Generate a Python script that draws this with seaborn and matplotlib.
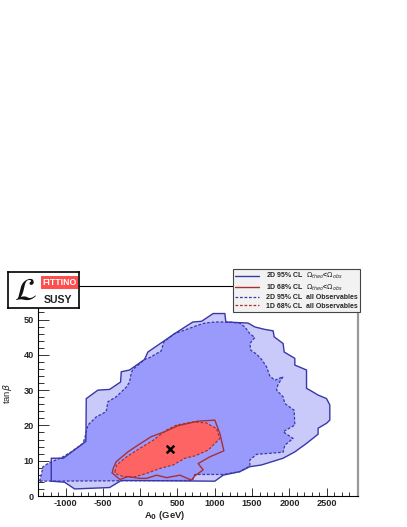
import numpy as np
import matplotlib
matplotlib.use("Agg")
import matplotlib.pyplot as plt
from matplotlib.lines import Line2D
from matplotlib.patches import Rectangle
import seaborn as sns

# 2D 95% CL, Omega_theo < Omega_obs (solid blue, light fill)
outer_a0 = [-1192, -1192, -1032, -764, -728, -723, -567, -410, -263, -254, -142, 59, 103, 304,
            461, 706, 823, 978, 1135, 1148, 1447, 1537, 1671, 1782, 1796, 1916, 1930, 2073,
            2073, 2230, 2230, 2274, 2385, 2498, 2542, 2542, 2498, 2385, 2385, 2230, 2073, 1916,
            1627, 1470, 1336, 1112, 1001, -254, -410, -879, -1013]
outer_tb = [4.2, 10.7, 10.7, 14.9, 15.5, 27.6, 30.0, 30.2, 32.3, 35.2, 35.7, 38.7, 40.8, 43.7,
            46.0, 49.3, 49.5, 51.7, 51.7, 49.3, 49.0, 47.9, 47.2, 46.8, 45.1, 43.2, 40.8, 39.0,
            37.1, 35.7, 30.5, 30.0, 28.6, 27.6, 25.8, 21.5, 20.6, 19.2, 17.5, 14.9, 12.5, 10.7,
            8.8, 8.3, 6.9, 5.9, 4.2, 4.4, 2.4, 2.0, 3.9]

# 2D 95% CL, all observables (dashed blue, medium fill)
inner_a0 = [-1348, -1326, -1304, -1237, -1036, -925, -768, -745, -723, -701, -590, -456, -433,
            -322, -188, -142, -120, -100, 59, 126, 281, 318, 461, 595, 773, 867, 1001, 1179,
            1336, 1403, 1470, 1537, 1470, 1483, 1560, 1627, 1694, 1738, 1805, 1916, 1849, 1828,
            1916, 1939, 2064, 2073, 1916, 2050, 1939, 1916, 1560, 1470, 1470, 1336, 1112, 733,
            700]
inner_tb = [4.2, 6.1, 8.3, 9.2, 11.1, 12.5, 14.9, 16.3, 18.2, 20.1, 22.4, 23.9, 26.7,
            28.1, 30.8, 32.3, 34.9, 35.8, 38.7, 39.2, 41.1, 43.7, 46.0, 47.0, 48.4, 49.0, 49.3, 49.3,
            49.0, 47.9, 46.0, 44.9, 43.2, 41.3, 40.2, 38.7, 36.6, 34.0, 32.8, 33.8, 31.7, 30.0,
            28.1, 26.2, 24.3, 20.1, 18.2, 16.3, 14.4, 12.4, 11.8, 10.2, 8.5, 6.9, 6.1, 6.1,
            4.4]

# 1D 68% CL, Omega_theo < Omega_obs (solid red, no fill)
red_solid_a0 = [-375, -362, -322, -165, -31, 147, 327, 505, 773, 1001, 1068, 1122, 934, 777,
                844, 733, 689, 532, 354, 220, 86, -8, -165, -272]
red_solid_tb = [6.5, 7.8, 9.7, 12.5, 14.4, 16.8, 18.2, 19.9, 21.2, 21.5, 17.7, 12.8, 11.1, 9.2,
                7.4, 5.7, 4.5, 5.9, 5.2, 5.9, 5.0, 5.0, 5.5, 4.7]

# 1D 68% CL, all observables (dashed red, red fill)
red_dash_a0 = [-339, -316, -182, -4, 174, 354, 488, 710, 890, 978, 1023, 1068, 911, 740, 599,
               442, 264, 86, -94, -228, -339]
red_dash_tb = [6.9, 8.8, 11.1, 13.5, 15.8, 18.7, 20.1, 21.0, 20.7, 19.6, 19.2, 16.3, 13.0, 11.4,
               10.7, 8.8, 7.8, 6.4, 5.3, 5.5, 6.4]

best_a0 = [400]
best_tb = [13.2]

legend_labels = [r"2D 95% CL  $\Omega_{theo}$<$\Omega_{obs}$",
                 r"1D 68% CL  $\Omega_{theo}$<$\Omega_{obs}$",
                 "2D 95% CL  all Observables",
                 "1D 68% CL  all Observables"]

sns.set_style("ticks")
plt.rcParams["font.family"] = ["Liberation Sans", "DejaVu Sans"]
plt.rcParams["axes.unicode_minus"] = False

c_light = "#cacafa"
c_mid = "#9a9afc"
c_red = "#ff6464"
c_bline = "#3838a8"
c_rline = "#aa3030"
dash = (0, (2.2, 1.4))


def closed(x, y):
    return np.append(x, x[0]), np.append(y, y[0])


fig = plt.figure(figsize=(4.07, 5.27), dpi=100)
ax = fig.add_axes([38 / 407, 1 - 496 / 527, 320 / 407, 210 / 527])

ax.fill(outer_a0, outer_tb, color=c_light, lw=0, zorder=1)
ax.fill(inner_a0, inner_tb, color=c_mid, lw=0, zorder=2)
ax.fill(red_dash_a0, red_dash_tb, color=c_red, lw=0, zorder=3)

x, y = closed(outer_a0, outer_tb)
sns.lineplot(x=x, y=y, sort=False, estimator=None, color=c_bline, lw=1.0, ax=ax, zorder=4)
x, y = closed(inner_a0, inner_tb)
sns.lineplot(x=x, y=y, sort=False, estimator=None, color=c_bline, lw=0.9,
             linestyle=dash, ax=ax, zorder=4)
x, y = closed(red_dash_a0, red_dash_tb)
sns.lineplot(x=x, y=y, sort=False, estimator=None, color=c_rline, lw=0.9,
             linestyle=dash, ax=ax, zorder=5)
x, y = closed(red_solid_a0, red_solid_tb)
sns.lineplot(x=x, y=y, sort=False, estimator=None, color=c_rline, lw=1.0, ax=ax, zorder=5)
sns.scatterplot(x=best_a0, y=best_tb, marker="x", s=30, color="black", linewidth=1.8,
                ax=ax, zorder=6)

ax.set_xlim(-1370, 2920)
ax.set_ylim(0, 59.5)
ax.set_xticks([-1000, -500, 0, 500, 1000, 1500, 2000, 2500])
ax.set_xticks(np.arange(-1300, 2901, 100), minor=True)
ax.set_yticks([0, 10, 20, 30, 40, 50])
ax.set_yticks(np.arange(0, 59, 2), minor=True)
ax.tick_params(axis="both", which="both", direction="in", labelsize=6.6, width=0.7, color="#333333")
ax.tick_params(axis="x", which="major", length=6, pad=2.5)
ax.tick_params(axis="x", which="minor", length=3)
ax.tick_params(axis="y", which="major", length=8, pad=3)
ax.tick_params(axis="y", which="minor", length=4.5)
for lab in ax.get_xticklabels() + ax.get_yticklabels():
    lab.set_fontweight("bold")

for s in ["left", "bottom", "top"]:
    ax.spines[s].set_color("black")
    ax.spines[s].set_linewidth(0.8)
ax.spines["right"].set_visible(True)
ax.spines["top"].set_visible(True)
ax.spines["right"].set_color("#999999")
ax.spines["right"].set_linewidth(1.6)

ax.set_xlabel(r"A$_\mathbf{0}$ (GeV)", fontsize=6.8, fontweight="bold", va="center")
ax.xaxis.set_label_coords((165 - 38) / 320, -0.095)
ax.set_ylabel(r"tan$\beta$", fontsize=6.8, va="center")
ax.yaxis.set_label_coords(-0.094, 0.49)

handles = [Line2D([], [], color=c_bline, lw=1.0),
           Line2D([], [], color=c_rline, lw=1.0),
           Line2D([], [], color=c_bline, lw=0.9, linestyle=dash),
           Line2D([], [], color=c_rline, lw=0.9, linestyle=dash)]
leg = fig.legend(handles, legend_labels, loc="upper left",
                 bbox_to_anchor=(233 / 407, 1 - 269 / 527), borderaxespad=0,
                 prop={"size": 5.0, "weight": "bold"}, handlelength=3.5,
                 handletextpad=0.95, labelspacing=0.2, borderpad=0.3,
                 fancybox=False, framealpha=1, facecolor="#f2f2f2",
                 edgecolor="#444444")
leg.get_frame().set_linewidth(0.8)

# FITTINO logo
lg = fig.add_axes([8 / 407, 1 - 308 / 527, 71 / 407, 36.5 / 527])
lg.set_xlim(0, 1)
lg.set_ylim(0, 1)
lg.set_xticks([])
lg.set_yticks([])
lg.set_facecolor("white")
for s in lg.spines.values():
    s.set_visible(True)
    s.set_color("black")
    s.set_linewidth(1.2)
lg.add_patch(Rectangle((0.47, 0.52), 0.52, 0.35, color="#ff4e4e", lw=0))
lg.text(0.73, 0.695, "FITTINO", color="white", fontsize=6.3, fontweight="bold",
        ha="center", va="center")
lg.text(0.70, 0.22, "SUSY", color="#222222", fontsize=7.6, fontweight="bold",
        ha="center", va="center")
lg.text(0.25, 0.45, r"$\mathcal{L}$", fontsize=23, math_fontfamily="stix",
        ha="center", va="center", color="#111111")

fig.savefig("out.png", dpi=100)
